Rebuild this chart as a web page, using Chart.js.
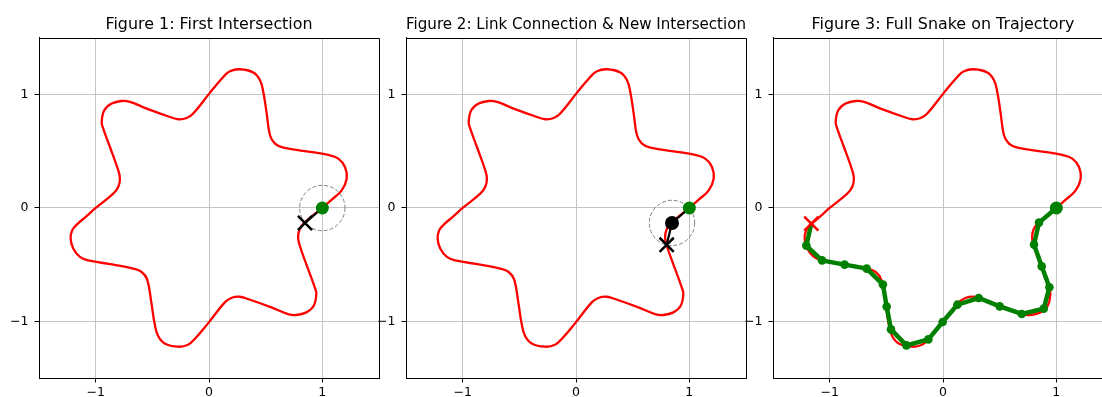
<!DOCTYPE html>
<html>
<head>
<meta charset="utf-8">
<script src="https://cdn.jsdelivr.net/npm/chart.js@4.4.1/dist/chart.umd.min.js"></script>
<style>
  html, body { margin: 0; padding: 0; background: #fff; }
  #wrap { position: relative; width: 1102px; height: 397px; overflow: hidden; }
  #wrap canvas { position: absolute; top: 0; }
</style>
</head>
<body>
<div id="wrap">
  <canvas id="fig1" width="383" height="397" style="left:0px"></canvas>
  <canvas id="fig2" width="383" height="397" style="left:367px"></canvas>
  <canvas id="fig3" width="383" height="397" style="left:734px"></canvas>
</div>
<script>
// Trajectory (closed star curve), starting at (1, 0)
const trajX = [1.0, 1.083, 1.171, 1.215, 1.200, 1.141, 1.053, 0.862, 0.656, 0.582, 0.538, 0.509, 0.479, 0.450, 0.391, 0.274, 0.185, 0.126, 0.009,
  -0.139, -0.197, -0.271, -0.344, -0.550, -0.697, -0.771, -0.859, -0.924, -0.947, -0.933, -0.874, -0.801, -0.786, -0.801, -0.845,
  -1.0, -1.083, -1.165, -1.207, -1.221, -1.198, -1.139, -1.065, -0.845, -0.668, -0.594, -0.545, -0.509, -0.479, -0.450, -0.391, -0.274, -0.185, -0.126, -0.009,
  0.139, 0.197, 0.271, 0.344, 0.550, 0.697, 0.771, 0.859, 0.924, 0.947, 0.933, 0.874, 0.801, 0.786, 0.801, 0.845, 1.0];
const trajY = [0.0, 0.074, 0.156, 0.259, 0.362, 0.436, 0.468, 0.500, 0.533, 0.568, 0.642, 0.833, 1.024, 1.127, 1.195, 1.224, 1.207, 1.156, 1.018,
  0.833, 0.794, 0.783, 0.803, 0.877, 0.936, 0.944, 0.921, 0.862, 0.759, 0.701, 0.538, 0.333, 0.259, 0.185, 0.127,
  0.0, -0.074, -0.145, -0.197, -0.270, -0.358, -0.432, -0.462, -0.500, -0.535, -0.565, -0.632, -0.833, -1.024, -1.127, -1.195, -1.224, -1.207, -1.156, -1.018,
  -0.833, -0.794, -0.783, -0.803, -0.877, -0.936, -0.944, -0.921, -0.862, -0.759, -0.701, -0.538, -0.333, -0.259, -0.185, -0.127, 0.0];

const tickValues = [-1, 0, 1];
const axisMin = -1.5, axisMax = 1.5;
const titles = ['Figure 1: First Intersection', 'Figure 2: Link Connection & New Intersection', 'Figure 3: Full Snake on Trajectory'];

// Fig 1 / Fig 2 points
const startPt = [1.0, 0.0];
const firstHit = [0.847, -0.132];
const secondHit = [0.80, -0.325];
const linkLength = 0.2;

// Fig 3: snake nodes (last one is the final intersection)
const snakeX = [1.0, 0.847, 0.803, 0.871, 0.939, 0.889, 0.695, 0.500, 0.315, 0.127, -0.003, -0.129, -0.323, -0.459, -0.497, -0.530, -0.673, -0.868, -1.068, -1.206, -1.162];
const snakeY = [0.0, -0.129, -0.323, -0.515, -0.700, -0.888, -0.935, -0.868, -0.794, -0.853, -1.006, -1.159, -1.212, -1.071, -0.870, -0.676, -0.535, -0.500, -0.462, -0.332, -0.138];

const FONT = 'DejaVu Sans';

function pts(xs, ys) {
    return xs.map((x, i) => ({ x: x, y: ys[i] }));
}
function pt(p) {
    return [{ x: p[0], y: p[1] }];
}

// box around the axes (top and right spines)
const framePlugin = {
    id: 'frame',
    afterDraw(chart) {
        const a = chart.chartArea, ctx = chart.ctx;
        ctx.save();
        ctx.strokeStyle = '#000';
        ctx.lineWidth = 1;
        ctx.beginPath();
        ctx.moveTo(Math.round(a.left) + 0.5, Math.round(a.top) + 0.5);
        ctx.lineTo(Math.round(a.right) + 0.5, Math.round(a.top) + 0.5);
        ctx.lineTo(Math.round(a.right) + 0.5, Math.round(a.bottom) + 0.5);
        ctx.stroke();
        ctx.restore();
    }
};

// dashed search circle around a point, radius in data units
const circlePlugin = {
    id: 'searchCircle',
    beforeDatasetsDraw(chart, args, opts) {
        if (!opts || opts.r == null) return;
        const xs = chart.scales.x, ys = chart.scales.y;
        const cx = xs.getPixelForValue(opts.cx), cy = ys.getPixelForValue(opts.cy);
        const rad = xs.getPixelForValue(opts.cx + opts.r) - cx;
        const ctx = chart.ctx;
        ctx.save();
        ctx.strokeStyle = '#808080';
        ctx.lineWidth = 1;
        ctx.setLineDash([4, 2]);
        ctx.beginPath();
        ctx.arc(cx, cy, rad, 0, Math.PI * 2);
        ctx.stroke();
        ctx.restore();
    }
};

function axisScales() {
    const tickFont = { family: FONT, size: 12.5 };
    const fmt = v => v < 0 ? '\u2212' + Math.abs(v) : String(v);
    const setTicks = s => { s.ticks = tickValues.map(v => ({ value: v })); };
    const grid = { color: '#c4c4c4', lineWidth: 1, tickColor: '#000', tickLength: 4.5, tickWidth: 1 };
    const border = { color: '#000', width: 1 };
    return {
        x: {
            type: 'linear', position: 'bottom', min: axisMin, max: axisMax,
            afterBuildTicks: setTicks, afterFit: s => { s.height = 19; },
            grid: grid, border: border,
            ticks: { font: tickFont, color: '#000', padding: 3, callback: fmt, maxRotation: 0, autoSkip: false }
        },
        y: {
            type: 'linear', position: 'left', min: axisMin, max: axisMax,
            afterBuildTicks: setTicks, afterFit: s => { s.width = 39; },
            grid: grid, border: border,
            ticks: { font: tickFont, color: '#000', padding: 6, callback: fmt, autoSkip: false }
        }
    };
}

function makeChart(id, title, datasets, circle) {
    new Chart(document.getElementById(id), {
        type: 'scatter',
        data: { datasets: datasets },
        plugins: circle ? [framePlugin, circlePlugin] : [framePlugin],
        options: {
            responsive: false,
            animation: false,
            devicePixelRatio: 1,
            layout: { autoPadding: false, padding: { left: 0, right: 4, top: 0, bottom: 0 } },
            scales: axisScales(),
            plugins: {
                legend: { display: false },
                tooltip: { enabled: false },
                title: {
                    display: true, text: title, fullSize: false, color: '#000',
                    font: { family: FONT, size: 15.9, weight: 'normal' },
                    padding: { top: 15.7, bottom: 3.2 }
                },
                searchCircle: circle || false
            }
        }
    });
}

function curveSet() {
    return {
        data: pts(trajX, trajY), showLine: true, borderColor: '#ff0000', borderWidth: 2.3,
        pointRadius: 0, tension: 0.4, fill: false, order: 10
    };
}
function lineSet(data, color, width, order) {
    return { data: data, showLine: true, borderColor: color, borderWidth: width, pointRadius: 0, tension: 0, order: order };
}
function dotSet(p, color, r, order) {
    return { data: pt(p), pointRadius: r, backgroundColor: color, borderColor: color, borderWidth: 0, order: order };
}
function crossSet(p, color, order) {
    return { data: pt(p), pointStyle: 'crossRot', pointRadius: 10, borderColor: color, borderWidth: 2.5, order: order };
}

// Figure 1
makeChart('fig1', titles[0], [
    curveSet(),
    lineSet(pt(startPt).concat(pt(firstHit)), '#000', 2.2, 5),
    crossSet(firstHit, '#000', 3),
    dotSet(startPt, '#008000', 6.5, 1)
], { cx: startPt[0], cy: startPt[1], r: linkLength });

// Figure 2
makeChart('fig2', titles[1], [
    curveSet(),
    lineSet(pt(startPt).concat(pt(firstHit), pt(secondHit)), '#000', 2.2, 5),
    crossSet(secondHit, '#000', 3),
    dotSet(firstHit, '#000', 7, 2),
    dotSet(startPt, '#008000', 6.5, 1)
], { cx: firstHit[0], cy: firstHit[1], r: linkLength });

// Figure 3
makeChart('fig3', titles[2], [
    curveSet(),
    {
        data: pts(snakeX, snakeY), showLine: true, borderColor: '#008000', borderWidth: 4.5, tension: 0,
        pointRadius: c => c.dataIndex === snakeX.length - 1 ? 0 : 4.3,
        backgroundColor: '#008000', pointBorderWidth: 0, order: 5
    },
    dotSet([snakeX[0], snakeY[0]], '#008000', 6.5, 2),
    crossSet([snakeX[snakeX.length - 1], snakeY[snakeY.length - 1]], '#ff0000', 1)
], null);
</script>
</body>
</html>
